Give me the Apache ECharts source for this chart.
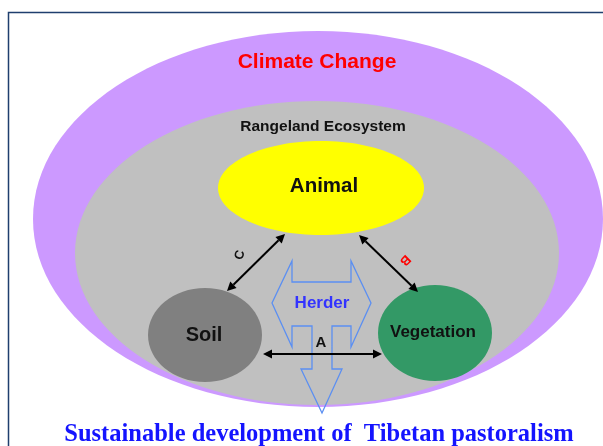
<!DOCTYPE html>
<html>
<head>
<meta charset="utf-8">
<script src="https://cdn.jsdelivr.net/npm/echarts@6/dist/echarts.min.js"></script>
<style>
  html, body { margin: 0; padding: 0; background: #fff; }
  #chart { width: 603px; height: 446px; }
</style>
</head>
<body>
<div id="chart"></div>
<script>
// diagram units = pixels of the original figure (x to the right, y downwards)
const regionNames = ['Climate Change', 'Rangeland Ecosystem', 'Animal', 'Soil', 'Vegetation'];
const regionCx = [318, 317, 321, 205, 435];
const regionCy = [219, 253, 188, 335, 333];
const regionRx = [285, 242, 103, 57, 57];
const regionRy = [188, 152, 47, 47, 48];
const regionLabelX = [317, 323, 324, 204, 433];
const regionLabelY = [62, 126.5, 186, 335, 332];

const linkNames = ['C', 'B', 'A'];
const linkFrom = [[285, 234], [359, 235], [263, 354]];
const linkTo = [[227, 291], [418, 292], [382, 354]];
const linkLabelX = [240, 405, 321];
const linkLabelY = [255, 260, 343];

const herderName = 'Herder';
const herderOutline = [
  [272, 303], [292, 261], [292, 282], [351, 282], [351, 261], [371, 303],
  [351, 347], [351, 326], [332, 326], [332, 369], [342, 369], [322, 413],
  [301, 369], [312, 369], [312, 326], [292, 326], [292, 347]
];
const herderLabel = [322, 303];

const footerText = 'Sustainable development of  Tibetan pastoralism';
const footerPos = [319, 435];

// styles
const regionColors = ['#cc99ff', '#c0c0c0', '#ffff00', '#808080', '#339966'];
const regionFonts = [
  { size: 21, color: '#ff0000' },
  { size: 15.5, color: '#111' },
  { size: 20.5, color: '#111' },
  { size: 20, color: '#111' },
  { size: 17, color: '#111' }
];
const linkLabelStyle = [
  { size: 13, color: '#111', rot: 1.3 },
  { size: 13, color: '#ff0000', rot: -2.35 },
  { size: 15, color: '#111', rot: 0 }
];
const sansFont = 'Arial, "Liberation Sans", sans-serif';

const chart = echarts.init(document.getElementById('chart'));

// 椭圆区域
const renderRegion = (params, api) => {
  const i = params.dataIndex;
  const c = api.coord([regionCx[i], regionCy[i]]);
  const e = api.coord([regionCx[i] + regionRx[i], regionCy[i] + regionRy[i]]);
  const l = api.coord([regionLabelX[i], regionLabelY[i]]);
  const f = regionFonts[i];
  return {
    type: 'group',
    children: [
      {
        type: 'ellipse',
        shape: { cx: c[0], cy: c[1], rx: Math.abs(e[0] - c[0]), ry: Math.abs(e[1] - c[1]) },
        style: { fill: regionColors[i] }
      },
      {
        type: 'text',
        x: l[0], y: l[1],
        style: {
          text: regionNames[i], x: 0, y: 0, align: 'center', verticalAlign: 'middle',
          fill: f.color, fontSize: f.size, fontWeight: 'bold', fontFamily: sansFont
        }
      }
    ]
  };
};

const arrowHead = (tip, dir, len, w) => {
  const bx = tip[0] - dir[0] * len;
  const by = tip[1] - dir[1] * len;
  return {
    type: 'polygon',
    shape: { points: [tip, [bx - dir[1] * w, by + dir[0] * w], [bx + dir[1] * w, by - dir[0] * w]] },
    style: { fill: '#000' }
  };
};

// 双向箭头
const renderLink = (params, api) => {
  const i = params.dataIndex;
  const a = api.coord(linkFrom[i]);
  const b = api.coord(linkTo[i]);
  const dx = b[0] - a[0], dy = b[1] - a[1];
  const d = Math.sqrt(dx * dx + dy * dy);
  const u = [dx / d, dy / d];
  const len = 9, w = 4.5;
  const l = api.coord([linkLabelX[i], linkLabelY[i]]);
  const s = linkLabelStyle[i];
  return {
    type: 'group',
    children: [
      {
        type: 'line',
        shape: { x1: a[0] + u[0] * len, y1: a[1] + u[1] * len, x2: b[0] - u[0] * len, y2: b[1] - u[1] * len },
        style: { stroke: '#000', lineWidth: 2 }
      },
      arrowHead(b, u, len, w),
      arrowHead(a, [-u[0], -u[1]], len, w),
      {
        type: 'text',
        x: l[0], y: l[1], rotation: s.rot,
        style: {
          text: linkNames[i], x: 0, y: 0, align: 'center', verticalAlign: 'middle',
          fill: s.color, fontSize: s.size, fontWeight: 'bold', fontFamily: sansFont
        }
      }
    ]
  };
};

const renderHerder = (params, api) => {
  const pts = herderOutline.map(p => api.coord(p));
  const l = api.coord(herderLabel);
  return {
    type: 'group',
    children: [
      {
        type: 'polygon',
        shape: { points: pts },
        style: { fill: 'none', stroke: '#5b8ff2', lineWidth: 1.3 }
      },
      {
        type: 'text',
        x: l[0], y: l[1],
        style: {
          text: herderName, x: 0, y: 0, align: 'center', verticalAlign: 'middle',
          fill: '#3333ff', fontSize: 17, fontWeight: 'bold', fontFamily: sansFont
        }
      }
    ]
  };
};

const renderFooter = (params, api) => {
  const p = api.coord(footerPos);
  return {
    type: 'text',
    x: p[0], y: p[1],
    style: {
      text: footerText, x: 0, y: 0, align: 'center', verticalAlign: 'middle',
      fill: '#1414ff', fontSize: 24.5, fontWeight: 'bold',
      fontFamily: '"Times New Roman", "Liberation Serif", serif'
    }
  };
};

const option = {
  animation: false,
  grid: { left: 0, right: 0, top: 0, bottom: 0 },
  xAxis: { type: 'value', min: 0, max: 603, show: false },
  yAxis: { type: 'value', min: 0, max: 446, inverse: true, show: false },
  graphic: [
    {
      type: 'rect',
      shape: { x: 8.5, y: 12.5, width: 700, height: 500 },
      style: { fill: 'none', stroke: '#1f3f6e', lineWidth: 1.5 },
      z: 10
    }
  ],
  series: [
    { type: 'custom', renderItem: renderRegion, data: regionNames.map((n, i) => [i]), clip: false },
    { type: 'custom', renderItem: renderHerder, data: [[0]], clip: false },
    { type: 'custom', renderItem: renderLink, data: linkNames.map((n, i) => [i]), clip: false },
    { type: 'custom', renderItem: renderFooter, data: [[0]], clip: false }
  ]
};

chart.setOption(option);
window.addEventListener('resize', () => chart.resize());
</script>
</body>
</html>
